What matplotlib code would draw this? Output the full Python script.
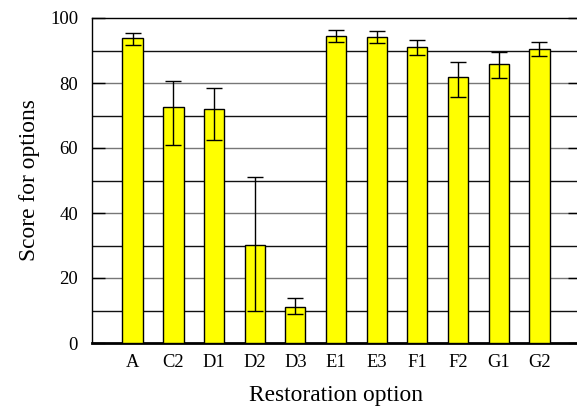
import matplotlib
matplotlib.use("Agg")
import matplotlib.pyplot as plt
import numpy as np

# ---------------------------------------------------------------------------
# Data
# ---------------------------------------------------------------------------
options = ["A", "C2", "D1", "D2", "D3", "E1", "E3", "F1", "F2", "G1", "G2"]
scores = [93.7, 72.6, 71.9, 30.3, 11.0, 94.5, 94.2, 91.0, 81.9, 85.8, 90.5]
err_low = [91.8, 60.8, 62.6, 9.9, 8.9, 92.5, 92.2, 88.5, 75.8, 81.5, 88.2]
err_high = [95.5, 80.7, 78.4, 51.0, 13.9, 96.4, 96.1, 93.2, 86.4, 89.4, 92.5]

plt.rcParams.update({
    "font.family": ["Liberation Serif", "DejaVu Serif"],
    "font.size": 13,
})

x = np.arange(len(options))
scores_a = np.array(scores)
yerr = np.vstack([scores_a - np.array(err_low), np.array(err_high) - scores_a])

fig = plt.figure(figsize=(5.77, 4.07), dpi=100)
ax = fig.add_axes([92 / 577, 64 / 407, 488 / 577, 325 / 407])

# grid: gray at majors, black at minors
for v in range(10, 100, 10):
    c = "#777777" if v % 20 == 0 else "#111111"
    ax.axhline(v, color=c, lw=1.0, zorder=1)

ax.bar(x, scores, width=0.5, color="#ffff00", edgecolor="black",
       linewidth=1.0, zorder=3)
ax.errorbar(x, scores, yerr=yerr, fmt="none", ecolor="black",
            elinewidth=1.0, capsize=5.5, capthick=1.0, zorder=4)

ax.set_xlim(-1, 11)
ax.set_ylim(0, 100)
ax.set_xticks(x)
ax.set_xticklabels(options)
ax.set_yticks(range(0, 101, 20))

ax.tick_params(axis="x", length=0, pad=8, labelsize=13.3)
ax.tick_params(axis="y", direction="in", length=9, width=1.0,
               right=True, pad=10, labelsize=13.5)

for side in ("left", "top"):
    ax.spines[side].set_linewidth(1.0)
ax.spines["bottom"].set_linewidth(2.0)
ax.spines["right"].set_visible(False)

ax.set_xlabel("Restoration option", fontsize=16.8, labelpad=10)
ax.set_ylabel("Score for options", fontsize=16.8, labelpad=7)

fig.savefig("out.png", dpi=100)
